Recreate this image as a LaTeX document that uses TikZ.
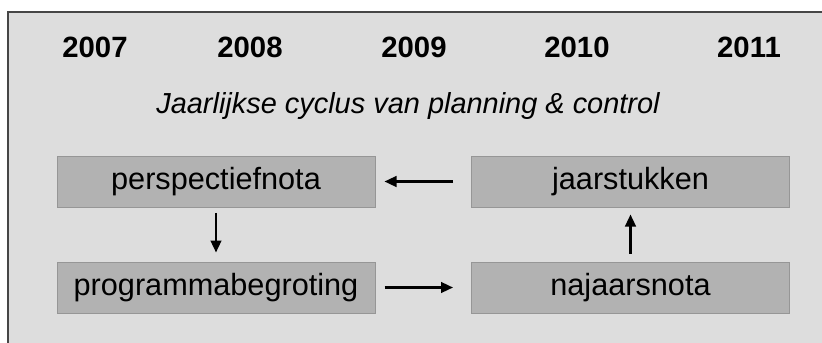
\documentclass[tikz,border=0pt]{standalone}
\usepackage{fontspec}
\setmainfont{Liberation Sans}
\usetikzlibrary{arrows.meta}
\definecolor{bg}{RGB}{221,221,221}
\definecolor{boxfill}{RGB}{178,178,178}
\definecolor{boxline}{RGB}{150,150,150}
\definecolor{frameline}{RGB}{70,70,70}
\begin{document}
\begin{tikzpicture}[x=0.75pt,y=-0.75pt,
  yearlabel/.style={font=\fontsize{22}{26}\selectfont\bfseries, inner sep=0pt},
  titlelabel/.style={font=\fontsize{21.7}{26}\selectfont\itshape, inner sep=0pt},
  docbox/.style={draw=boxline, fill=boxfill, line width=0.75pt, minimum width=238.5pt, minimum height=38.25pt, inner sep=0pt, font=\fontsize{23}{26}\selectfont},
  arr/.style={line width=1.7pt, -{Triangle[length=9pt,width=8pt]}}]
\useasboundingbox (0,0) rectangle (822,343);
\clip (0,0) rectangle (822,343);
\fill[white] (0,0) rectangle (822,343);
\draw[frameline, fill=bg, line width=0.9pt] (8,12) rectangle (840,360);
\node[yearlabel] (y7) at (95,47) {2007};
\node[yearlabel] (y8) at (250,47) {2008};
\node[yearlabel] (y9) at (414,47) {2009};
\node[yearlabel] (y10) at (577,47) {2010};
\node[yearlabel] (y11) at (749,47) {2011};
\node[titlelabel] (title) at (408,106) {Jaarlijkse cyclus van planning \& control};
\node[docbox] (persp) at (216,181.5) {perspectiefnota};
\node[docbox] (prog) at (216,287.5) {programmabegroting};
\node[docbox] (jaar) at (630.5,181.5) {jaarstukken};
\node[docbox] (najaar) at (630.5,287.5) {najaarsnota};
\draw[arr] ([xshift=-13.5pt]jaar.west) -- ([xshift=6.75pt]persp.east);
\draw[arr] ([xshift=6.75pt]prog.east) -- ([xshift=-13.5pt]najaar.west);
\draw[arr] ([yshift=-4pt]persp.south) -- ([yshift=6.75pt]prog.north);
\draw[arr] ([yshift=6pt]najaar.north) -- ([yshift=-5.25pt]jaar.south);
\end{tikzpicture}
\end{document}
